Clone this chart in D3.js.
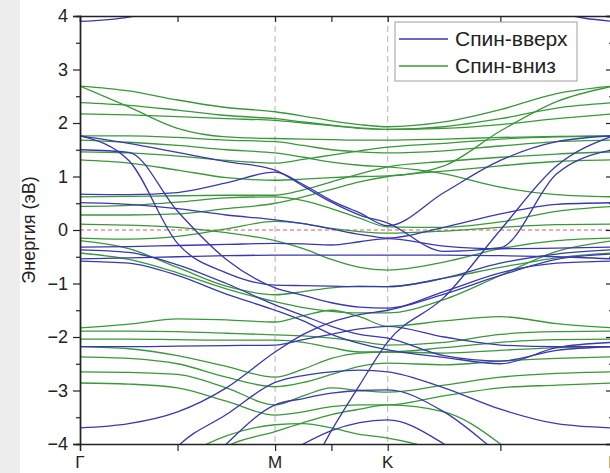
<!DOCTYPE html>
<html>
<head>
<meta charset="utf-8">
<script src="https://cdn.jsdelivr.net/npm/d3@7"></script>
<style>
  body { margin: 0; background: #fff; }
  svg { display: block; font-family: "Liberation Sans", Arial, sans-serif; }
</style>
</head>
<body>
<div id="chart"></div>
<script>
// k-path sample points (Γ - M - K - Γ), distances in units of 2π/a
const kSamples = [0, 0.2165, 0.433, 0.6495, 0.866, 0.991, 1.116, 1.241, 1.366, 1.616, 1.866, 2.116, 2.366];
const kLabels = [
  { k: 0, name: "Γ" }, { k: 0.866, name: "M" }, { k: 1.366, name: "K" }, { k: 2.366, name: "Γ" }
];
const kTicks = [0, 0.433, 0.866, 1.116, 1.366, 1.866, 2.366];
const yTicks = [-4, -3, -2, -1, 0, 1, 2, 3, 4];
const seriesNames = ["Спин-вверх", "Спин-вниз"];

// Spin up bands (eV) at each k sample
const spinUp = [
  [3.90, 3.98, 4.25, 4.80, 5.20, 5.20, 5.20, 5.20, 5.20, 5.20, 4.60, 4.08, 3.90],
  [1.76, 1.62, 1.45, 1.28, 1.12, 0.82, 0.52, 0.28, 0.13, -0.40, -0.33, 1.05, 1.50],
  [0.67, 0.66, 0.70, 0.88, 1.08, 0.85, 0.55, 0.32, 0.08, 0.70, 1.30, 1.65, 1.76],
  [1.76, 1.30, -0.25, -0.80, -1.03, -1.04, -1.05, -1.06, -1.06, -0.90, -0.62, -0.45, -0.37],
  [1.50, 1.45, 0.35, -0.55, -1.08, -1.22, -1.36, -1.44, -1.46, -1.15, -0.80, -0.62, -0.58],
  [0.51, 0.48, 0.40, 0.28, 0.19, 0.12, 0.02, -0.08, -0.15, 0.05, 0.30, 0.48, 0.51],
  [-0.32, -0.31, -0.29, -0.27, -0.25, -0.26, -0.28, -0.22, -0.16, -0.30, -0.35, -0.34, -0.32],
  [-0.54, -0.52, -0.50, -0.48, -0.47, -0.47, -0.47, -0.47, -0.47, -0.47, -0.48, -0.50, -0.54],
  [-0.37, -0.42, -0.65, -1.00, -1.40, -1.60, -1.80, -1.95, -2.02, -2.35, -2.45, -2.25, -2.18],
  [-0.58, -0.62, -0.85, -1.20, -1.50, -1.70, -1.95, -2.12, -2.24, -2.38, -2.50, -2.20, -2.10],
  [-5.50, -5.50, -5.50, -5.50, -5.30, -4.70, -3.75, -2.90, -2.09, -1.26, 0.00, 1.20, 1.76],
  [-2.18, -2.18, -2.17, -2.16, -2.15, -2.05, -1.95, -1.85, -1.80, -2.00, -2.15, -2.18, -2.18],
  [-3.70, -3.62, -3.40, -2.95, -2.28, -1.95, -1.72, -1.58, -1.50, -1.20, -0.85, -0.55, -0.45],
  [-5.50, -5.30, -4.05, -3.45, -2.85, -2.72, -2.65, -2.62, -2.65, -2.95, -3.35, -3.62, -3.70],
  [-5.50, -5.50, -5.00, -4.00, -3.27, -3.15, -3.05, -3.00, -2.99, -3.40, -4.20, -5.00, -5.50],
  [-5.50, -5.50, -5.50, -5.00, -4.30, -4.00, -3.75, -3.60, -3.55, -4.00, -4.80, -5.50, -5.50]
];

// Spin down bands (eV) at each k sample
const spinDown = [
  [2.69, 2.60, 2.43, 2.29, 2.21, 2.13, 2.04, 1.97, 1.93, 2.02, 2.25, 2.55, 2.69],
  [2.69, 2.30, 1.90, 1.74, 1.71, 1.70, 1.69, 1.68, 1.68, 1.70, 1.73, 1.75, 1.76],
  [2.38, 2.33, 2.24, 2.14, 2.08, 2.02, 1.96, 1.91, 1.88, 1.93, 2.08, 2.28, 2.38],
  [2.17, 2.15, 2.12, 2.08, 2.05, 2.00, 1.95, 1.90, 1.88, 1.90, 1.97, 2.08, 2.17],
  [1.76, 1.76, 1.73, 1.68, 1.65, 1.58, 1.50, 1.46, 1.44, 1.48, 1.57, 1.65, 1.68],
  [1.68, 1.64, 1.58, 1.50, 1.44, 1.36, 1.27, 1.21, 1.18, 1.05, 0.80, 0.66, 0.62],
  [1.46, 1.44, 1.38, 1.30, 1.25, 1.32, 1.40, 1.48, 1.55, 1.62, 1.70, 1.74, 1.76],
  [1.31, 1.25, 1.12, 0.98, 0.93, 0.95, 0.98, 1.00, 1.01, 1.20, 1.85, 2.40, 2.69],
  [0.62, 0.63, 0.64, 0.65, 0.65, 0.75, 0.90, 1.05, 1.18, 1.28, 1.36, 1.42, 1.46],
  [0.44, 0.46, 0.52, 0.60, 0.62, 0.55, 0.40, 0.22, 0.06, 0.05, 0.15, 0.35, 0.44],
  [0.28, 0.28, 0.30, 0.40, 0.50, 0.62, 0.76, 0.90, 1.00, 1.10, 1.20, 1.28, 1.31],
  [-0.15, -0.17, -0.12, 0.02, 0.16, 0.12, 0.03, -0.03, -0.06, -0.02, 0.05, 0.10, 0.11],
  [0.11, 0.09, 0.05, -0.05, -0.20, -0.35, -0.55, -0.70, -0.75, -0.60, -0.35, -0.20, -0.15],
  [-0.20, -0.35, -0.70, -1.05, -1.21, -1.15, -1.08, -1.05, -1.06, -0.90, -0.70, -0.52, -0.43],
  [-0.43, -0.55, -0.80, -1.10, -1.34, -1.45, -1.52, -1.55, -1.55, -1.30, -0.85, -0.40, -0.20],
  [-1.83, -1.76, -1.66, -1.68, -1.72, -1.60, -1.50, -1.62, -1.80, -1.70, -1.62, -1.75, -1.83],
  [-1.89, -1.89, -1.90, -1.93, -1.96, -1.98, -2.02, -2.08, -2.15, -2.10, -1.95, -1.90, -1.89],
  [-2.04, -2.04, -2.05, -2.06, -2.06, -2.10, -2.20, -2.28, -2.28, -2.20, -2.10, -2.05, -2.04],
  [-2.18, -2.22, -2.35, -2.55, -2.75, -2.60, -2.40, -2.30, -2.28, -2.30, -2.25, -2.20, -2.18],
  [-2.37, -2.40, -2.50, -2.75, -2.93, -2.85, -2.70, -2.55, -2.49, -2.52, -2.45, -2.40, -2.37],
  [-2.65, -2.66, -2.70, -2.95, -3.27, -3.10, -2.95, -3.00, -3.03, -2.90, -2.75, -2.68, -2.65],
  [-2.86, -2.88, -2.95, -3.20, -3.46, -3.40, -3.30, -3.27, -3.27, -3.10, -2.95, -2.90, -2.86],
  [-5.20, -5.00, -4.30, -3.85, -3.64, -3.62, -3.70, -3.82, -3.89, -4.20, -5.00, -5.20, -5.20],
  [-5.20, -5.20, -4.80, -4.05, -3.77, -3.60, -3.45, -3.35, -3.27, -3.40, -4.00, -5.00, -5.20]
];

const W = 610, H = 473;
const margin = { top: 16, right: -3, bottom: 29, left: 80 };
const width = W - margin.left - margin.right,
      height = H - margin.top - margin.bottom;

const colors = ["#3838b0", "#3a983a"];

const svg = d3.select("#chart").append("svg")
    .attr("width", W)
    .attr("height", H);

// grey strip on the left of the figure
svg.append("rect").attr("x", 0).attr("y", 0).attr("width", 20).attr("height", H).attr("fill", "#ededed");

const g = svg.append("g").attr("transform", `translate(${margin.left},${margin.top})`);

const x = d3.scaleLinear().domain([0, 2.366]).range([0, width]);
const y = d3.scaleLinear().domain([-4, 4]).range([height, 0]);

g.append("clipPath").attr("id", "clip")
  .append("rect").attr("width", width).attr("height", height);

// vertical dashed lines at M and K
g.selectAll(".vline")
  .data(kLabels.slice(1, 3))
  .enter().append("line")
  .attr("x1", d => x(d.k)).attr("x2", d => x(d.k))
  .attr("y1", 0).attr("y2", height)
  .attr("stroke", "#b4b4b4").attr("stroke-width", 1)
  .attr("stroke-dasharray", "6,4");

// Fermi level
g.append("line")
  .attr("x1", 0).attr("x2", width)
  .attr("y1", y(0)).attr("y2", y(0))
  .attr("stroke", "#dd5a5a").attr("stroke-width", 1)
  .attr("stroke-dasharray", "4,3");

const line = d3.line()
  .x((d, i) => x(kSamples[i]))
  .y(d => y(d))
  .curve(d3.curveMonotoneX);

const bands = g.append("g").attr("clip-path", "url(#clip)");

bands.selectAll(".dn")
  .data(spinDown)
  .enter().append("path")
  .attr("fill", "none")
  .attr("stroke", colors[1])
  .attr("stroke-width", 1.3)
  .attr("d", line);

bands.selectAll(".up")
  .data(spinUp)
  .enter().append("path")
  .attr("fill", "none")
  .attr("stroke", colors[0])
  .attr("stroke-width", 1.3)
  .attr("d", line);

// Axes
const minorY = d3.range(-3.5, 4, 1);

g.append("g")
  .attr("transform", `translate(0,${height})`)
  .call(d3.axisBottom(x).tickValues(kTicks).tickSize(7).tickFormat(""));
g.append("g")
  .call(d3.axisTop(x).tickValues(kTicks).tickSize(-6).tickFormat(""));
g.append("g")
  .call(d3.axisLeft(y).tickValues(yTicks).tickSize(7).tickPadding(5)
    .tickFormat(d => d < 0 ? "\u2212" + Math.abs(d) : d));
g.append("g")
  .call(d3.axisLeft(y).tickValues(minorY).tickSize(4).tickFormat(""));
g.append("g")
  .attr("transform", `translate(${width},0)`)
  .call(d3.axisRight(y).tickValues(yTicks).tickSize(-7).tickFormat(""));
g.append("g")
  .attr("transform", `translate(${width},0)`)
  .call(d3.axisRight(y).tickValues(minorY).tickSize(-4).tickFormat(""));

g.selectAll(".domain").attr("stroke", "#222").attr("stroke-width", 1.4);
g.selectAll(".tick line").attr("stroke", "#222").attr("stroke-width", 1.2);
g.selectAll(".tick text").attr("font-size", 18).attr("fill", "#222")
  .attr("font-family", "Liberation Sans, Arial, sans-serif");

// k labels
g.selectAll(".klab")
  .data(kLabels)
  .enter().append("text")
  .attr("x", d => x(d.k))
  .attr("y", height + 24)
  .attr("text-anchor", "middle")
  .attr("font-size", 17)
  .attr("fill", "#222")
  .text(d => d.name);

// y axis title
svg.append("text")
  .attr("transform", `translate(35,${margin.top + y(0)}) rotate(-90)`)
  .attr("text-anchor", "middle")
  .attr("font-size", 18)
  .attr("fill", "#222")
  .text("Энергия (эВ)");

// Legend
const legend = svg.append("g").attr("transform", "translate(395,22)");
legend.append("rect")
  .attr("width", 182).attr("height", 59)
  .attr("fill", "#fff").attr("stroke", "#a0a0a0").attr("stroke-width", 1);
seriesNames.forEach((name, i) => {
  legend.append("line")
    .attr("x1", 4).attr("x2", 53)
    .attr("y1", 17 + i * 27).attr("y2", 17 + i * 27)
    .attr("stroke", colors[i]).attr("stroke-width", 1.3);
  legend.append("text")
    .attr("x", 60).attr("y", 24 + i * 27)
    .attr("font-size", 21).attr("fill", "#222")
    .text(name);
});
</script>
</body>
</html>
